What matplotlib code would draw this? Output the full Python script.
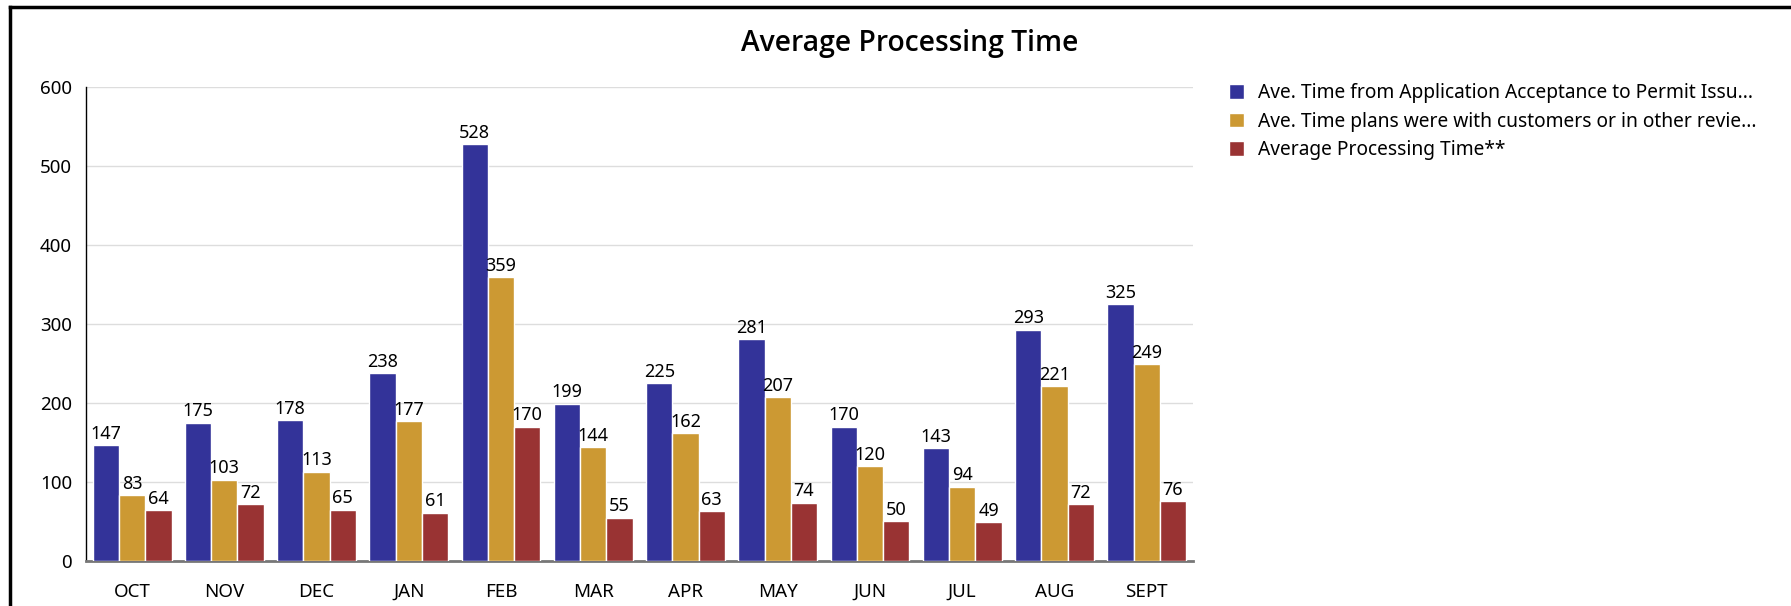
import matplotlib.pyplot as plt
import numpy as np
from matplotlib.lines import Line2D

plt.rcParams['font.family'] = ['Noto Sans', 'DejaVu Sans']

meses = ['OCT', 'NOV', 'DEC', 'JAN', 'FEB', 'MAR', 'APR', 'MAY', 'JUN', 'JUL', 'AUG', 'SEPT']
aceptacion_permiso = [147, 175, 178, 238, 528, 199, 225, 281, 170, 143, 293, 325]
con_clientes = [83, 103, 113, 177, 359, 144, 162, 207, 120, 94, 221, 249]
procesamiento = [64, 72, 65, 61, 170, 55, 63, 74, 50, 49, 72, 76]

nombres = ['Ave. Time from Application Acceptance to Permit Issu...',
           'Ave. Time plans were with customers or in other revie...',
           'Average Processing Time**']
colores = ['#333399', '#cc9933', '#993333']

fig = plt.figure(figsize=(17.91, 6.06), dpi=100)
ax = fig.add_axes([0.048, 0.0743, 0.618, 0.782])

x = np.arange(len(meses))
ancho = 0.285
series = [aceptacion_permiso, con_clientes, procesamiento]
for i, (datos, c, n) in enumerate(zip(series, colores, nombres)):
    pos = x + (i - 1) * ancho
    barras = ax.bar(pos, datos, ancho, color=c, edgecolor='white', linewidth=1, label=n, zorder=3)
    for b, v in zip(barras, datos):
        ax.text(b.get_x() + b.get_width() / 2, v + 3, str(v), ha='center', va='bottom',
                fontsize=13, color='black', zorder=4)

ax.set_xlim(-0.5, len(meses) - 0.5)
ax.set_ylim(0, 600)
ax.set_yticks(range(0, 601, 100))
ax.set_xticks(x)
ax.set_xticklabels(meses)
ax.tick_params(axis='both', length=0, labelsize=13.5)
ax.tick_params(axis='x', pad=16)
ax.tick_params(axis='y', pad=10)
ax.grid(axis='y', color='#dddddd', linewidth=1, zorder=0)
for s in ['top', 'right']:
    ax.spines[s].set_visible(False)
ax.spines['left'].set_color('black')
ax.spines['left'].set_linewidth(1)
ax.spines['bottom'].set_color('#777777')
ax.spines['bottom'].set_linewidth(2)

fig.text(0.508, 0.928, 'Average Processing Time', ha='center', va='center',
         fontsize=20.3, fontweight='semibold', family=['Open Sans', 'Noto Sans', 'DejaVu Sans'])

ax.legend(loc='upper left', bbox_to_anchor=(1.017, 1.045), frameon=False, fontsize=13.8,
          handlelength=0.8, handleheight=0.8, handletextpad=0.7, labelspacing=0.45)

# marco
fig.add_artist(Line2D([0.0055, 0.0055], [0, 0.989], color='black', linewidth=2.5, transform=fig.transFigure))
fig.add_artist(Line2D([0.0055, 1], [0.989, 0.989], color='black', linewidth=2.5, transform=fig.transFigure))

fig.savefig('out.png', dpi=100)
